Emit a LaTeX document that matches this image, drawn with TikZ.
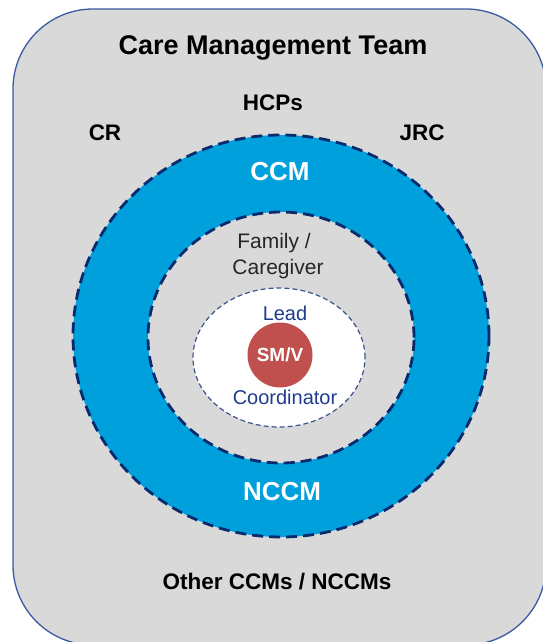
\documentclass[tikz,border=0pt]{standalone}
\usepackage{fontspec}
\setmainfont{Liberation Sans}
\usetikzlibrary{shapes.geometric}
\definecolor{boxgray}{HTML}{D9D9D9}
\definecolor{boxline}{HTML}{3A5BA0}
\definecolor{ringblue}{HTML}{00A0DC}
\definecolor{navy}{HTML}{0A2A6E}
\definecolor{leadblue}{HTML}{203C8C}
\definecolor{smred}{HTML}{C0504D}
\definecolor{darktext}{HTML}{262626}
\tikzset{
  oval/.style={ellipse, inner sep=0pt, outer sep=0pt},
  ringline/.style={draw=navy, line width=2.8pt, dash pattern=on 11pt off 6pt},
  thinring/.style={draw=navy!80!white, line width=1.2pt, dash pattern=on 5pt off 3pt},
  bigbold/.style={font=\bfseries\fontsize{27}{32}\selectfont, text=black},
  lbl/.style={font=\bfseries\fontsize{22.5}{26}\selectfont, text=black},
  ringlbl/.style={font=\bfseries\fontsize{26}{30}\selectfont, text=white},
  famlbl/.style={font=\fontsize{21}{27}\selectfont, text=darktext, align=center},
  leadlbl/.style={font=\fontsize{20}{24}\selectfont, text=leadblue},
}
\begin{document}
\begin{tikzpicture}[x=1pt,y=-1pt]
\useasboundingbox (0,0) rectangle (542,642);
% outer rounded box
\draw[fill=boxgray, draw=boxline, line width=1.3pt, rounded corners=80pt] (13,9) rectangle (546,645);
% rings
\node[oval, ringline, fill=ringblue, minimum width=416pt, minimum height=402pt] (outer) at (281,336) {};
\node[oval, ringline, fill=boxgray, minimum width=266pt, minimum height=251pt] (inner) at (281,337.5) {};
\node[oval, thinring, fill=white, minimum width=172pt, minimum height=139pt] (core) at (279,357.5) {};
\node[circle, fill=smred, inner sep=0pt, minimum size=65pt] (smv) at (280,355) {};
% texts
\node[bigbold] (title) at (273,48) {Care Management Team};
\node[lbl] (hcps) at (273,103) {HCPs};
\node[lbl] (cr) at (105,133) {CR};
\node[lbl] (jrc) at (422,133) {JRC};
\node[ringlbl] (ccm) at (280,172) {CCM};
\node[famlbl] (fam1) at (274,243) {Family /};
\node[famlbl] (fam2) at (278,269) {Caregiver};
\node[leadlbl] (lead) at (285,313) {Lead};
\node[font=\bfseries\fontsize{19}{23}\selectfont, text=white] (smvtext) at (280,355) {SM/V};
\node[leadlbl] (coord) at (285,397) {Coordinator};
\node[ringlbl] (nccm) at (282,492) {NCCM};
\node[lbl] (other) at (277,582) {Other CCMs / NCCMs};
\end{tikzpicture}
\end{document}
